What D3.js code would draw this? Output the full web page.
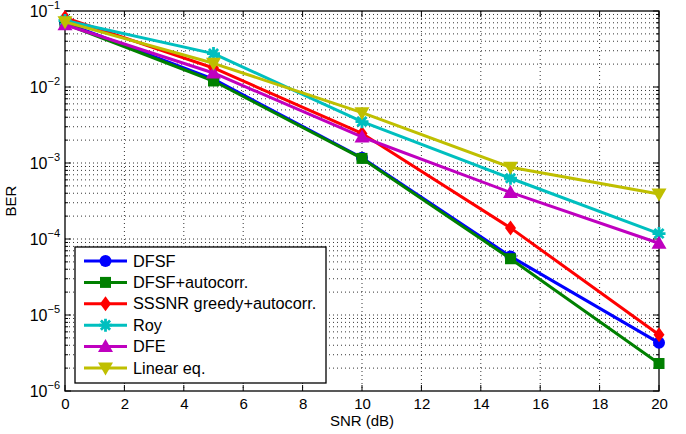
<!DOCTYPE html>
<html>
<head>
<meta charset="utf-8">
<script src="https://cdn.jsdelivr.net/npm/d3@7"></script>
<style>
body { margin: 0; background: #fff; }
svg { font-family: "Liberation Sans", Arial, sans-serif; }
.grid line { stroke: #000; stroke-width: 0.8; stroke-dasharray: 1,3; }
</style>
</head>
<body>
<svg id="chart" width="686" height="434"></svg>
<script>
var snr = [0, 5, 10, 15, 20];
var names = ["DFSF", "DFSF+autocorr.", "SSSNR greedy+autocorr.", "Roy", "DFE", "Linear eq."];
var dfsf      = [0.070, 0.0127, 1.17e-3, 5.9e-5, 4.3e-6];
var dfsfAuto  = [0.068, 0.0120, 1.15e-3, 5.5e-5, 2.3e-6];
var sssnr     = [0.082, 0.0178, 2.45e-3, 1.4e-4, 5.5e-6];
var roy       = [0.075, 0.0275, 3.5e-3, 6.3e-4, 1.18e-4];
var dfe       = [0.066, 0.0153, 2.2e-3, 4.1e-4, 8.8e-5];
var linearEq  = [0.072, 0.0205, 4.6e-3, 8.8e-4, 3.9e-4];
var colors = ["#0000ff", "#008000", "#ff0000", "#00bfbf", "#bf00bf", "#bfbf00"];
var markers = ["circle", "square", "diamond", "star", "up", "down"];
var xTicks = [0, 2, 4, 6, 8, 10, 12, 14, 16, 18, 20];
var yExps = [-1, -2, -3, -4, -5, -6];

var seriesValues = [dfsf, dfsfAuto, sssnr, roy, dfe, linearEq];

var svg = d3.select("#chart");
var margin = {top: 11, right: 27, bottom: 43, left: 65};
var width = 686 - margin.left - margin.right,
		height = 434 - margin.top - margin.bottom;

var x = d3.scaleLinear().domain([0, 20]).range([0, width]),
		y = d3.scaleLog().domain([1e-6, 1e-1]).range([height, 0]);

var g = svg.append("g")
		.attr("transform", "translate(" + margin.left + "," + margin.top + ")");

// minor and major log values
var yAll = [];
for (var e = -6; e < -1; e++) {
	for (var m = 1; m < 10; m++) yAll.push(m * Math.pow(10, e));
}
yAll.push(1e-1);

var grid = g.append("g").attr("class", "grid");
grid.selectAll(".gx").data(xTicks.slice(1, -1)).enter().append("line")
		.attr("x1", function(d) { return x(d); })
		.attr("x2", function(d) { return x(d); })
		.attr("y1", 0).attr("y2", height);
grid.selectAll(".gy").data(yAll.slice(1, -1)).enter().append("line")
		.attr("y1", function(d) { return y(d); })
		.attr("y2", function(d) { return y(d); })
		.attr("x1", 0).attr("x2", width);

// ticks (inside, both sides)
var ticks = g.append("g").attr("stroke", "#000").attr("stroke-width", 1);
xTicks.forEach(function(t) {
	ticks.append("line").attr("x1", x(t)).attr("x2", x(t)).attr("y1", height).attr("y2", height - 6);
	ticks.append("line").attr("x1", x(t)).attr("x2", x(t)).attr("y1", 0).attr("y2", 6);
});
yAll.forEach(function(v) {
	var major = Math.abs(Math.log10(v) - Math.round(Math.log10(v))) < 1e-9;
	var len = major ? 6 : 3;
	ticks.append("line").attr("y1", y(v)).attr("y2", y(v)).attr("x1", 0).attr("x2", len);
	ticks.append("line").attr("y1", y(v)).attr("y2", y(v)).attr("x1", width).attr("x2", width - len);
});

// axes labels
var xAxis = d3.axisBottom(x).tickValues(xTicks).tickSize(0).tickPadding(7);
g.append("g")
		.attr("transform", "translate(0," + height + ")")
		.call(xAxis)
		.call(function(s) { s.select(".domain").remove(); })
		.selectAll("text")
			.attr("font-size", 15)
			.attr("fill", "#000")
			.attr("font-family", "Liberation Sans, Arial, sans-serif");

var yl = g.append("g");
yExps.forEach(function(e) {
	var t = yl.append("text")
			.attr("x", -5)
			.attr("y", y(Math.pow(10, e)) + 6)
			.attr("text-anchor", "end")
			.attr("font-size", 16);
	t.append("tspan").text("10");
	t.append("tspan").attr("dy", -8).attr("font-size", 11).text("\u2212" + (-e));
});

g.append("rect")
		.attr("width", width).attr("height", height)
		.attr("fill", "none").attr("stroke", "#000").attr("stroke-width", 1.3);

svg.append("text")
		.attr("x", margin.left + width / 2).attr("y", 426)
		.attr("text-anchor", "middle").attr("font-size", 15)
		.text("SNR (dB)");
svg.append("text")
		.attr("transform", "translate(16," + (margin.top + height / 2) + ") rotate(-90)")
		.attr("text-anchor", "middle").attr("font-size", 15)
		.text("BER");

function drawMarker(sel, type, color) {
	if (type === "circle") {
		sel.append("circle").attr("r", 6).attr("fill", color);
	} else if (type === "square") {
		sel.append("rect").attr("x", -5.5).attr("y", -5.5).attr("width", 11).attr("height", 11).attr("fill", color);
	} else if (type === "diamond") {
		sel.append("path").attr("d", "M0,-7.5L5.5,0L0,7.5L-5.5,0Z").attr("fill", color);
	} else if (type === "star") {
		var p = "";
		for (var i = 0; i < 4; i++) {
			var a = i * Math.PI / 4;
			p += "M" + (-6.5 * Math.cos(a)) + "," + (-6.5 * Math.sin(a)) + "L" + (6.5 * Math.cos(a)) + "," + (6.5 * Math.sin(a));
		}
		sel.append("path").attr("d", p).attr("stroke", color).attr("stroke-width", 2.8).attr("fill", "none");
	} else if (type === "up") {
		sel.append("path").attr("d", "M0,-7.5L7.5,5.5L-7.5,5.5Z").attr("fill", color);
	} else if (type === "down") {
		sel.append("path").attr("d", "M0,7.5L7.5,-5.5L-7.5,-5.5Z").attr("fill", color);
	}
}

var line = d3.line()
		.x(function(d) { return x(d[0]); })
		.y(function(d) { return y(d[1]); });

seriesValues.forEach(function(vals, i) {
	var pts = snr.map(function(s, j) { return [s, vals[j]]; });
	g.append("path")
			.datum(pts)
			.attr("d", line)
			.attr("fill", "none")
			.attr("stroke", colors[i])
			.attr("stroke-width", 3)
			.attr("stroke-linejoin", "round");
	pts.forEach(function(p) {
		var mk = g.append("g").attr("transform", "translate(" + x(p[0]) + "," + y(p[1]) + ")");
		drawMarker(mk, markers[i], colors[i]);
	});
});

// legend
var lg = svg.append("g").attr("transform", "translate(75,247)");
lg.append("rect")
		.attr("width", 251).attr("height", 136)
		.attr("fill", "#fff").attr("stroke", "#000").attr("stroke-width", 1.3);
names.forEach(function(n, i) {
	var yy = 14 + i * 21.4;
	lg.append("line").attr("x1", 9).attr("x2", 52).attr("y1", yy).attr("y2", yy)
			.attr("stroke", colors[i]).attr("stroke-width", 3);
	drawMarker(lg.append("g").attr("transform", "translate(30.5," + yy + ")"), markers[i], colors[i]);
	lg.append("text").attr("x", 58).attr("y", yy + 5.5).attr("font-size", 16.3).text(n);
});
</script>
</body>
</html>
